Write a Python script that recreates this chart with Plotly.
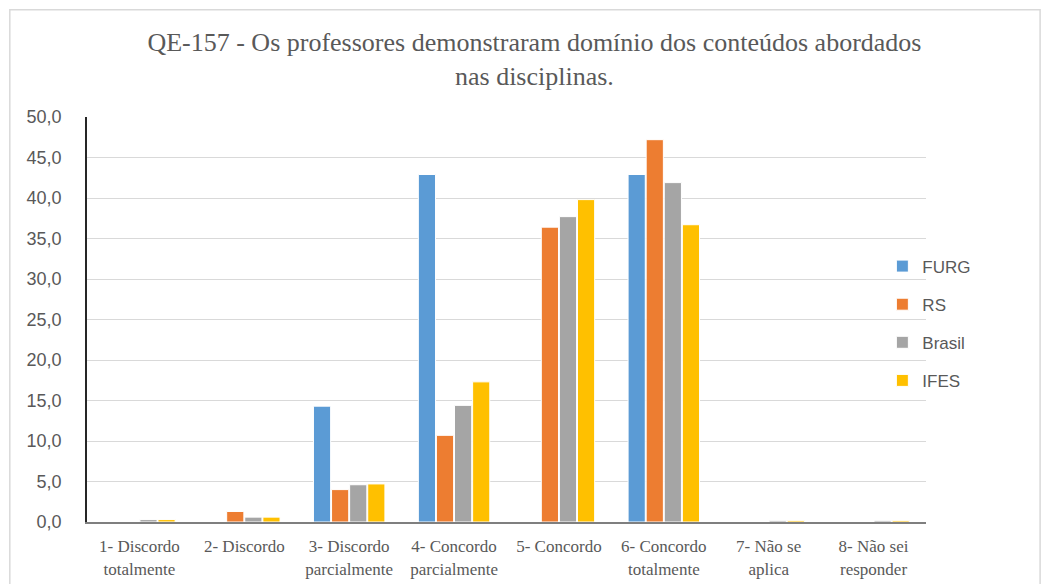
import plotly.graph_objects as go

categories = [
    "1- Discordo<br>totalmente",
    "2- Discordo",
    "3- Discordo<br>parcialmente",
    "4- Concordo<br>parcialmente",
    "5- Concordo",
    "6- Concordo<br>totalmente",
    "7- Não se<br>aplica",
    "8- Não sei<br>responder",
]

furg = [0.0, 0.0, 14.3, 42.9, 0.0, 42.9, 0.0, 0.0]
rs = [0.0, 1.3, 4.0, 10.7, 36.4, 47.2, 0.0, 0.0]
brasil = [0.3, 0.6, 4.6, 14.4, 37.7, 41.9, 0.2, 0.2]
ifes = [0.3, 0.6, 4.7, 17.3, 39.8, 36.7, 0.2, 0.2]

series = [
    ("FURG", furg, "#5B9BD5"),
    ("RS", rs, "#ED7D31"),
    ("Brasil", brasil, "#A5A5A5"),
    ("IFES", ifes, "#FFC000"),
]

fig = go.Figure()
for name, vals, color in series:
    fig.add_trace(go.Bar(
        name=name, x=categories, y=vals, legendgroup=name,
        marker=dict(color=color, line=dict(color="white", width=1)),
    ))

serif = "Liberation Serif, Times New Roman, serif"
sans = "Liberation Sans, Arial, sans-serif"

fig.update_layout(
    width=1052, height=584,
    margin=dict(l=87, r=126, t=117, b=62, autoexpand=False),
    paper_bgcolor="white", plot_bgcolor="white",
    barmode="group", bargap=0.31, bargroupgap=0.05,
    separators=",.",
    title=dict(
        text="QE-157 - Os professores demonstraram domínio dos conteúdos abordados<br>nas disciplinas.",
        x=0.508, xanchor="center", y=0.912, yanchor="middle",
        font=dict(family=serif, size=26, color="#595959"),
    ),
    legend=dict(
        x=0.948, xanchor="left", y=0.49, yanchor="middle",
        font=dict(family=sans, size=17, color="#595959"),
        itemwidth=30, tracegroupgap=13, bgcolor="rgba(0,0,0,0)",
    ),
    xaxis=dict(
        showline=True, linecolor="#7f7f7f", linewidth=2,
        ticks="", tickfont=dict(family=serif, size=17, color="#595959"),
        ticklabelstandoff=8, automargin=False,
    ),
    yaxis=dict(
        range=[0, 50], dtick=5, tickformat=".1f",
        showgrid=True, gridcolor="#d9d9d9", gridwidth=1,
        showline=True, linecolor="#262626", linewidth=1.5,
        zeroline=False, ticks="", automargin=False,
        tickfont=dict(family=sans, size=18, color="#595959"),
        ticklabelstandoff=20,
    ),
    shapes=[dict(
        type="rect", xref="paper", yref="paper",
        x0=-0.092, x1=1.136, y0=-0.2, y1=1.265,
        line=dict(color="#d9d9d9", width=1.5),
    )],
)

fig.write_html("out.html")
